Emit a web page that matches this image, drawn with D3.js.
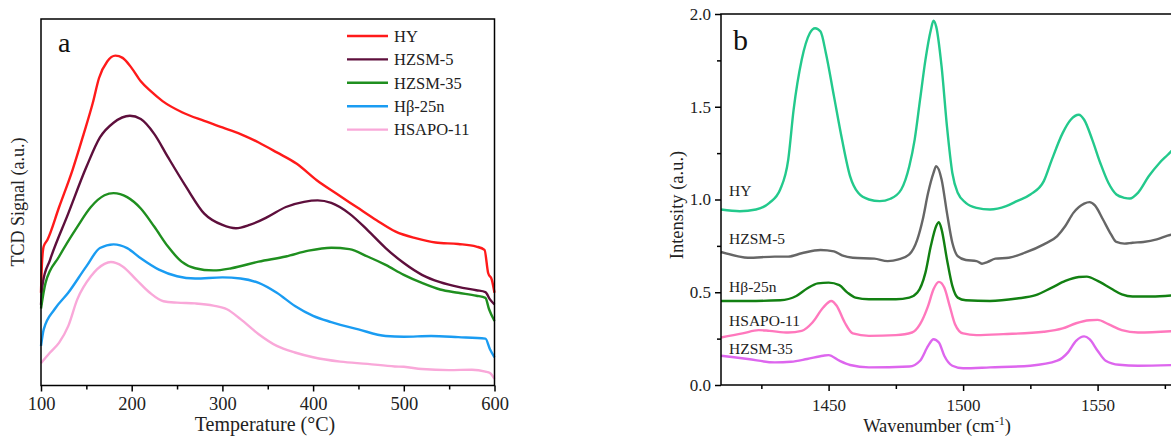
<!DOCTYPE html>
<html>
<head>
<meta charset="utf-8">
<script src="https://cdn.jsdelivr.net/npm/d3@7"></script>
<style>
  body { margin: 0; background: #fff; }
  svg { display: block; font-family: "Liberation Serif", "Times New Roman", serif; }
  .axis path, .axis line { stroke: #000; stroke-width: 1.5; }
  .axis text { font-family: "Liberation Serif", "Times New Roman", serif; fill: #222; }
  .axis-a text { font-size: 18.5px; }
  .axis-b text { font-size: 17px; }
</style>
</head>
<body>
<div id="chart"></div>
<script>
"use strict";

// ---- panel a: TPD curves (temperature, signal in arbitrary units) ----
var tpdNames = ["HY", "HZSM-5", "HZSM-35", "Hβ-25n", "HSAPO-11"];
var tpdColors = ["#ff1a1a", "#5e0f3c", "#1f8f1f", "#1a9cf2", "#f9a8d9"];

var tpdHY = [[100,25.3],[101,33],[103,38],[107,39.7],[120,48.7],[135,59],[147,68.6],[157,77],[164,83.9],[173,88.4],
  [182,90],[190,89.4],[200,86.6],[210,83],[221,80.3],[234,77.6],[256,74.5],[280,72.2],[300,70.4],[320,68.6],
  [340,66.3],[360,63.6],[382,60.5],[404,56],[426,52.3],[448,48.7],[470,45.1],[491,42],[513,40.2],[535,39],
  [560,38.6],[580,37.9],[589,37],[593,30.7],[597,28.9],[600,25.3]];
var tpdZSM5 = [[100,22],[102,28],[110,34.3],[130,46.9],[150,59.6],[165,67.7],[180,71.7],[198,73.6],[210,72.7],
  [225,68.6],[240,62.3],[260,54.2],[280,46.9],[300,43.8],[315,42.9],[330,43.8],[350,46],[370,48.7],[390,50.1],
  [405,50.5],[420,49.8],[440,46.9],[460,42.4],[480,37.5],[500,33.4],[520,30.2],[540,28.2],[560,26.9],
  [580,26],[590,25.5],[595,23.5],[600,22.1]];
var tpdZSM35 = [[100,21],[105,28],[120,35.2],[140,43.3],[155,48.7],[170,51.9],[180,52.5],[195,51.4],[210,48.3],
  [225,43.3],[240,37.9],[255,33.8],[270,32],[290,31.4],[310,32],[340,33.8],[370,35.2],[395,36.8],[420,37.6],
  [440,37.2],[460,35.2],[480,32.9],[500,30.2],[520,28],[540,26.2],[560,25.3],[580,24.5],[590,23.9],
  [594,20.8],[600,17.6]];
var tpdBeta = [[100,10.8],[103,15.3],[115,20.8],[130,25.3],[150,32.5],[165,37.5],[180,38.5],[195,37.5],[210,34.7],
  [230,31.6],[250,29.8],[270,29.2],[300,29.5],[320,29.2],[340,28],[360,25.3],[380,21.7],[400,19],[420,17.3],
  [450,15.3],[480,13.5],[500,13.3],[530,13.5],[560,13.2],[590,12.8],[595,9.9],[600,7.7]];
var tpdSAPO = [[100,6.1],[110,9],[120,11.7],[130,16.2],[140,23.5],[155,29.8],[170,33.2],[177,33.7],[190,32.5],
  [205,28.9],[220,25.3],[235,23],[250,22.6],[270,22.4],[290,21.8],[305,20.8],[320,18.1],[340,14],[360,10.8],
  [380,9],[400,7.7],[430,6.5],[460,5.9],[490,5.2],[500,5.1],[520,4.5],[550,4.2],[575,4.3],[590,3.8],
  [595,3.4],[600,1.8]];
var tpdSeries = [tpdHY, tpdZSM5, tpdZSM35, tpdBeta, tpdSAPO];
var tpdTicks = [100, 200, 300, 400, 500, 600];
var tpdMinorTicks = [150, 250, 350, 450, 550];

// ---- panel b: pyridine IR spectra (wavenumber, intensity) ----
var irNames = ["HY", "HZSM-5", "Hβ-25n", "HSAPO-11", "HZSM-35"];
var irColors = ["#23c98c", "#666666", "#128012", "#ff78bd", "#dd66ee"];
var irLabelY = [1.046, 0.787, 0.528, 0.350, 0.199];

var irHY = [[1410,0.946],[1417,0.937],[1423,0.946],[1428,0.982],[1432,1.054],[1435,1.215],[1437,1.484],[1440,1.753],
  [1443,1.896],[1445,1.923],[1447,1.905],[1449,1.789],[1452,1.556],[1455,1.323],[1458,1.125],[1461,1.036],
  [1465,1.0],[1469,0.991],[1473,1.004],[1477,1.054],[1480,1.179],[1482,1.323],[1484,1.538],[1486,1.753],
  [1488,1.914],[1489,1.964],[1490,1.932],[1492,1.717],[1494,1.394],[1496,1.143],[1498,1.036],[1501,0.982],
  [1505,0.955],[1510,0.946],[1516,0.964],[1520,0.991],[1525,1.027],[1530,1.099],[1533,1.215],[1537,1.358],
  [1540,1.43],[1543,1.457],[1545,1.43],[1548,1.323],[1551,1.197],[1554,1.09],[1557,1.027],[1560,1.009],
  [1562,1.005],[1565,1.036],[1569,1.125],[1573,1.197],[1576,1.24],[1580,1.3]];
var irZSM5 = [[1410,0.717],[1416,0.695],[1420,0.686],[1430,0.692],[1435,0.692],[1440,0.71],[1447,0.728],[1452,0.72],
  [1455,0.699],[1459,0.686],[1467,0.681],[1472,0.668],[1476,0.677],[1480,0.704],[1483,0.785],[1485,0.892],
  [1487,1.036],[1489,1.143],[1490,1.179],[1492,1.108],[1494,0.928],[1496,0.767],[1498,0.695],[1501,0.674],
  [1505,0.668],[1507,0.654],[1509,0.663],[1512,0.681],[1517,0.686],[1523,0.713],[1530,0.758],[1535,0.803],
  [1538,0.857],[1541,0.928],[1545,0.978],[1547,0.986],[1549,0.968],[1552,0.892],[1555,0.812],[1557,0.771],
  [1560,0.762],[1563,0.767],[1567,0.771],[1572,0.785],[1576,0.805],[1580,0.82]];
var irBeta = [[1410,0.453],[1420,0.453],[1432,0.457],[1438,0.48],[1442,0.52],[1446,0.548],[1450,0.552],[1454,0.538],
  [1457,0.498],[1460,0.471],[1465,0.462],[1475,0.462],[1480,0.471],[1483,0.498],[1486,0.606],[1488,0.749],
  [1490,0.857],[1491,0.878],[1492,0.839],[1494,0.677],[1496,0.534],[1498,0.471],[1501,0.457],[1510,0.453],
  [1520,0.466],[1527,0.484],[1533,0.525],[1538,0.561],[1543,0.582],[1546,0.584],[1550,0.561],[1555,0.52],
  [1559,0.489],[1563,0.477],[1570,0.477],[1580,0.486]];
var irSAPO = [[1410,0.256],[1418,0.278],[1424,0.296],[1428,0.292],[1435,0.283],[1440,0.292],[1444,0.337],[1448,0.418],
  [1451,0.453],[1453,0.427],[1456,0.337],[1459,0.278],[1465,0.265],[1475,0.269],[1481,0.283],[1484,0.328],
  [1487,0.427],[1489,0.516],[1491,0.556],[1493,0.525],[1495,0.427],[1497,0.328],[1500,0.278],[1505,0.269],
  [1515,0.274],[1530,0.287],[1537,0.305],[1542,0.333],[1547,0.349],[1550,0.351],[1554,0.328],[1559,0.296],
  [1565,0.283],[1580,0.292]];
var irZSM35 = [[1410,0.158],[1420,0.14],[1430,0.122],[1436,0.125],[1442,0.14],[1448,0.158],[1450,0.161],[1454,0.131],
  [1458,0.108],[1465,0.095],[1480,0.1],[1484,0.131],[1487,0.211],[1489,0.247],[1491,0.229],[1493,0.158],
  [1496,0.104],[1500,0.09],[1510,0.095],[1525,0.104],[1535,0.131],[1539,0.176],[1542,0.238],[1545,0.262],
  [1547,0.247],[1550,0.185],[1553,0.131],[1558,0.109],[1565,0.104],[1580,0.108]];
var irSeries = [irHY, irZSM5, irBeta, irSAPO, irZSM35];
var irTicks = [1450, 1500, 1550];
var irMinorTicks = [1425, 1475, 1525, 1575];
var irYTicks = [0, 0.5, 1.0, 1.5, 2.0];
var irYMinorTicks = [0.25, 0.75, 1.25, 1.75];

var svg = d3.select("#chart").append("svg")
  .attr("width", 1171)
  .attr("height", 437);

drawTpd();
drawIr();

function drawTpd() {
  var left = 41, right = 494.5, top = 19, bottom = 385.5;
  var x = d3.scaleLinear().domain([100, 600]).range([left, right]);
  var y = d3.scaleLinear().domain([0, 100]).range([bottom, top]);

  var g = svg.append("g");

  // data curves
  var line = d3.line()
    .x(function(d) { return x(d[0]); })
    .y(function(d) { return y(d[1]); })
    .curve(d3.curveMonotoneX);
  tpdSeries.forEach(function(s, i) {
    g.append("path")
      .attr("d", line(s))
      .attr("fill", "none")
      .attr("stroke", tpdColors[i])
      .attr("stroke-width", 2.4);
  });

  // frame
  g.append("rect")
    .attr("x", left).attr("y", top)
    .attr("width", right - left).attr("height", bottom - top)
    .attr("fill", "none").attr("stroke", "#000").attr("stroke-width", 1.5);

  g.append("g").attr("class", "axis axis-a")
    .attr("transform", "translate(0," + bottom + ")")
    .call(d3.axisBottom(x).tickValues(tpdTicks).tickSize(6).tickPadding(5).tickFormat(d3.format("d")))
    .select(".domain").remove();
  g.append("g").attr("class", "axis")
    .attr("transform", "translate(0," + bottom + ")")
    .call(d3.axisBottom(x).tickValues(tpdMinorTicks).tickSize(4).tickFormat(""))
    .select(".domain").remove();

  g.append("text")
    .attr("x", 265).attr("y", 431)
    .attr("text-anchor", "middle").attr("font-size", 20).attr("fill", "#222")
    .text("Temperature (°C)");
  g.append("text")
    .attr("transform", "translate(24," + 202 + ") rotate(-90)")
    .attr("text-anchor", "middle").attr("font-size", 18).attr("fill", "#222")
    .text("TCD Signal (a.u.)");
  g.append("text")
    .attr("x", 58).attr("y", 52)
    .attr("font-size", 28).attr("fill", "#111")
    .text("a");

  // legend
  var lg = g.append("g").attr("transform", "translate(347,36)");
  tpdNames.forEach(function(name, i) {
    var row = lg.append("g").attr("transform", "translate(0," + i * 23.4 + ")");
    row.append("line")
      .attr("x1", 0).attr("x2", 41)
      .attr("stroke", tpdColors[i]).attr("stroke-width", 2.4);
    row.append("text")
      .attr("x", 47).attr("y", 0).attr("dy", "0.35em")
      .attr("font-size", 16.5).attr("fill", "#222")
      .text(name);
  });
}

function drawIr() {
  var left = 721, top = 14, bottom = 385;
  var pxPerUnit = 2.69;
  var x = d3.scaleLinear().domain([1410, 1600]).range([left, left + 190 * pxPerUnit]);
  var y = d3.scaleLinear().domain([0, 2]).range([bottom, top]);
  var right = x(1600);

  var g = svg.append("g");

  var line = d3.line()
    .x(function(d) { return x(d[0]); })
    .y(function(d) { return y(d[1]); })
    .curve(d3.curveMonotoneX);
  irSeries.forEach(function(s, i) {
    g.append("path")
      .attr("d", line(s))
      .attr("fill", "none")
      .attr("stroke", irColors[i])
      .attr("stroke-width", 2.4);
  });

  g.append("rect")
    .attr("x", left).attr("y", top)
    .attr("width", right - left).attr("height", bottom - top)
    .attr("fill", "none").attr("stroke", "#000").attr("stroke-width", 1.5);

  g.append("g").attr("class", "axis axis-b")
    .attr("transform", "translate(0," + bottom + ")")
    .call(d3.axisBottom(x).tickValues(irTicks).tickSize(6).tickPadding(8).tickFormat(d3.format("d")))
    .select(".domain").remove();
  g.append("g").attr("class", "axis")
    .attr("transform", "translate(0," + bottom + ")")
    .call(d3.axisBottom(x).tickValues(irMinorTicks).tickSize(4).tickFormat(""))
    .select(".domain").remove();

  g.append("g").attr("class", "axis axis-b")
    .attr("transform", "translate(" + left + ",0)")
    .call(d3.axisLeft(y).tickValues(irYTicks).tickSize(6).tickPadding(4).tickFormat(d3.format(".1f")))
    .select(".domain").remove();
  g.append("g").attr("class", "axis")
    .attr("transform", "translate(" + left + ",0)")
    .call(d3.axisLeft(y).tickValues(irYMinorTicks).tickSize(4).tickFormat(""))
    .select(".domain").remove();

  // curve labels
  irNames.forEach(function(name, i) {
    g.append("text")
      .attr("x", x(1413)).attr("y", y(irLabelY[i])).attr("dy", "0.35em")
      .attr("font-size", 15.5).attr("fill", "#222")
      .text(name);
  });

  var xt = g.append("text")
    .attr("x", 937).attr("y", 432)
    .attr("text-anchor", "middle").attr("font-size", 18.5).attr("fill", "#222");
  xt.append("tspan").text("Wavenumber (cm");
  xt.append("tspan").attr("dy", -7).attr("font-size", 12).text("-1");
  xt.append("tspan").attr("dy", 7).text(")");

  g.append("text")
    .attr("transform", "translate(683," + 205 + ") rotate(-90)")
    .attr("text-anchor", "middle").attr("font-size", 18.5).attr("fill", "#222")
    .text("Intensity (a.u.)");
  g.append("text")
    .attr("x", 733).attr("y", 50)
    .attr("font-size", 30).attr("fill", "#111")
    .text("b");
}
</script>
</body>
</html>
